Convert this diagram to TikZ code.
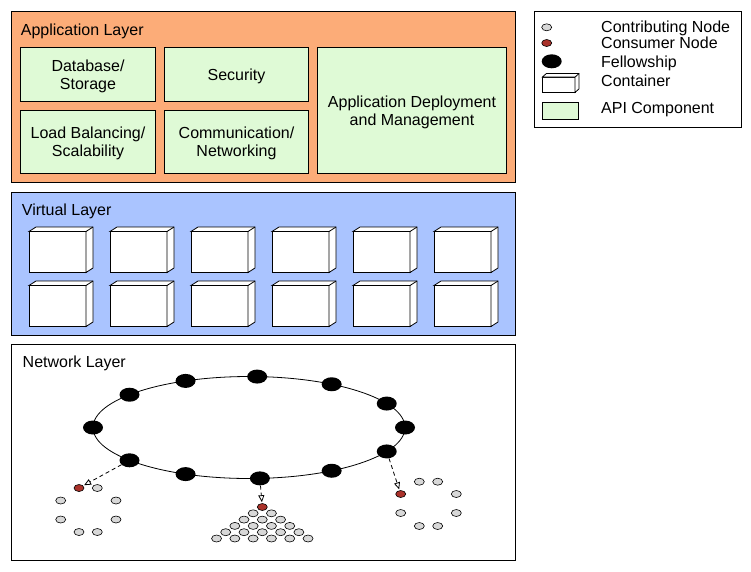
\documentclass[tikz,border=0pt]{standalone}
\usepackage{fontspec}
\setmainfont{Liberation Sans}
\usetikzlibrary{shapes.geometric,arrows.meta}
\definecolor{applayer}{RGB}{252,172,120}
\definecolor{apigreen}{RGB}{223,250,214}
\definecolor{virtlayer}{RGB}{170,196,255}
\definecolor{consumer}{RGB}{170,50,42}
\definecolor{contrib}{RGB}{216,216,216}
\tikzset{
  layer/.style={draw,line width=1pt},
  api/.style={draw,line width=1pt,fill=apigreen,align=center,inner sep=0pt,outer sep=0pt,text depth=0pt},
  layertitle/.style={anchor=west,inner sep=0pt,text depth=0pt},
  fellow/.style={ellipse,fill=black,minimum width=20pt,minimum height=14pt,inner sep=0pt},
  contribnode/.style={ellipse,draw,line width=0.6pt,fill=contrib,minimum width=10pt,minimum height=7pt,inner sep=0pt},
  consumernode/.style={contribnode,fill=consumer},
  cube/.style={draw,line width=0.8pt,fill=white,inner sep=0pt,outer sep=0pt},
  cubeface/.style={draw,line width=0.8pt,fill=white},
  linkarrow/.style={dash pattern=on 4pt off 3pt,line width=0.8pt,-{Triangle[open,length=7pt,width=6pt]},shorten >=1pt}
}
\begin{document}
\begin{tikzpicture}[x=1pt,y=-1pt,font=\fontsize{16}{18}\selectfont]
\useasboundingbox (0,0) rectangle (751,571);
% application layer
\draw[layer,fill=applayer] (11.5,11.5) rectangle (515,182);
\node[layertitle] (apptitle) at (20.7,30) {Application Layer};
\node[api,minimum width=135pt,minimum height=53.5pt] (db) at (88,74.25) {Database/\\Storage};
\node[api,minimum width=144pt,minimum height=53.5pt] (sec) at (236.5,74.25) {Security};
\node[api,minimum width=135pt,minimum height=63pt] (lb) at (88,142) {Load Balancing/\\Scalability};
\node[api,minimum width=144pt,minimum height=63pt] (comm) at (236.5,142) {Communication/\\Networking};
\node[api,minimum width=189pt,minimum height=126pt] (deploy) at (412,110.5) {Application Deployment\\and Management};
% virtual layer
\draw[layer,fill=virtlayer] (11.5,192) rectangle (515,335);
\node[layertitle] (virttitle) at (21.7,210) {Virtual Layer};
\foreach \r in {0,1}
  \foreach \c in {0,...,5}{
    \node[cube,minimum width=57pt,minimum height=41pt] (k\r\c) at ({57.5+81*\c},{252+54*\r}) {};
    \draw[cubeface] (k\r\c.north west) -- ++(7,-4.5) -- ++(57,0) -- ++(0,41) -- ++(-7,4.5) -- (k\r\c.north east) -- cycle;
    \draw[line width=0.8pt] (k\r\c.north east) -- ++(7,-4.5);
  }
% network layer
\draw[layer,fill=white] (11.5,344.5) rectangle (515,560);
\node[layertitle] (nettitle) at (22.5,362) {Network Layer};
\draw[line width=0.8pt] (249,427.5) ellipse [x radius=156,y radius=51];
\begin{scope}[shift={(249,427.5)}]
\foreach \a [count=\i] in {0,28,58,87,114,140,180,220,246,274,302,332}
  \node[fellow] (f\i) at (-\a:156 and 51) {};
\end{scope}
% left group
\node[consumernode] (cl1) at (79,488) {};
\foreach \x/\y [count=\i from 2] in {97.3/488,116/500.5,116/519.5,97.3/532,79/532,60.7/519.5,60.7/500.5}
  \node[contribnode] (cl\i) at (\x,\y) {};
% middle group
\node[consumernode] (t0) at (262.3,507) {};
\foreach \r in {1,...,5}
  \foreach \i in {0,...,\r}
    \node[contribnode] (t\r\i) at ({262.3+(\i-\r/2)*18.3},{507+6.3*\r}) {};
% right group
\node[consumernode] (cr1) at (400.7,494) {};
\foreach \x/\y [count=\i from 2] in {419.3/481.7,437.7/481.7,456.3/494,456.3/513,437.7/526,419.3/526,400.7/513}
  \node[contribnode] (cr\i) at (\x,\y) {};
\draw[linkarrow] (f8) -- (cl1);
\draw[linkarrow] (f10) -- (t0);
\draw[linkarrow] (f12) -- (cr1);
% legend
\draw[layer,fill=white] (534,11.5) rectangle (741,127);
\node[contribnode] (lg1) at (546.7,27.3) {};
\node[consumernode] (lg2) at (546.7,43) {};
\node[fellow] (lg3) at (551.7,61.3) {};
\node[cube,minimum width=32.7pt,minimum height=15.3pt] (lg4) at (558.7,84.7) {};
\draw[cubeface] (lg4.north west) -- ++(4,-3.5) -- ++(32.7,0) -- ++(0,15.3) -- ++(-4,3.5) -- (lg4.north east) -- cycle;
\draw[line width=0.8pt] (lg4.north east) -- ++(4,-3.5);
\node[api,minimum width=36pt,minimum height=16.7pt] (lg5) at (560.3,110.7) {};
\node[layertitle] (lt1) at (601,26.3) {Contributing Node};
\node[layertitle] (lt2) at (601,43) {Consumer Node};
\node[layertitle] (lt3) at (601,61.3) {Fellowship};
\node[layertitle] (lt4) at (601,80.7) {Container};
\node[layertitle] (lt5) at (601,108) {API Component};
\end{tikzpicture}
\end{document}
